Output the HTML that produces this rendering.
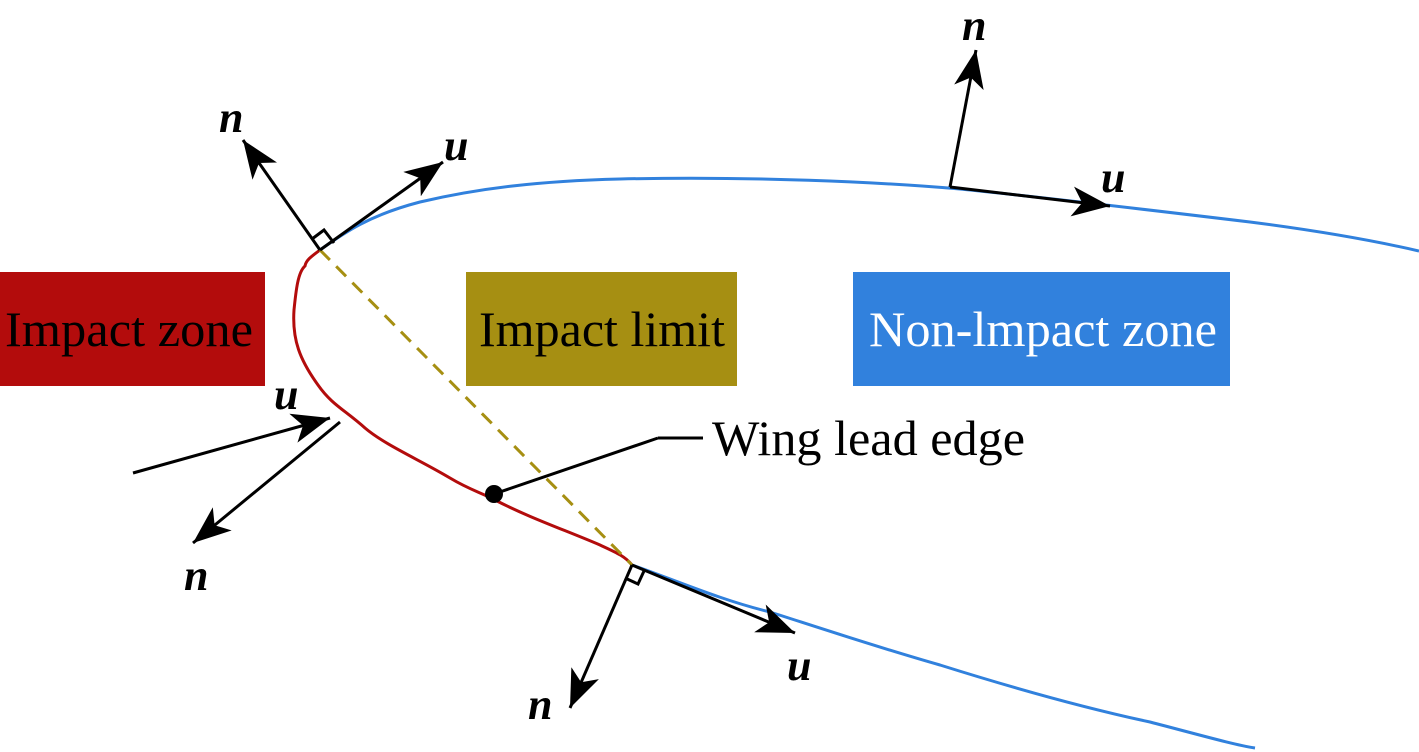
<!DOCTYPE html>
<html><head><meta charset="utf-8"><style>html,body{margin:0;padding:0;background:#fff;}svg{display:block}</style></head>
<body>
<svg width="1419" height="752" viewBox="0 0 1419 752" xmlns="http://www.w3.org/2000/svg">
<defs>
<marker id="ah" markerWidth="40" markerHeight="30" refX="38" refY="15" orient="auto" markerUnits="userSpaceOnUse" viewBox="0 0 40 30">
<path d="M0,0 L38,15 L0,30 L10,15 z" fill="#000"/>
</marker>
</defs>
<rect x="0" y="272" width="265" height="114" fill="#b30c0c"/>
<rect x="466" y="272" width="271" height="114" fill="#a68f12"/>
<rect x="853" y="272" width="377" height="114" fill="#3181dd"/>
<g font-family="Liberation Serif, serif" font-size="50">
<text x="5" y="346" textLength="248" lengthAdjust="spacingAndGlyphs" fill="#000">Impact zone</text>
<text x="479" y="346" textLength="246" lengthAdjust="spacingAndGlyphs" fill="#000">Impact limit</text>
<text x="869" y="346" textLength="348" lengthAdjust="spacingAndGlyphs" fill="#fff">Non-lmpact zone</text>
<text x="712" y="455" textLength="313" lengthAdjust="spacingAndGlyphs" fill="#000">Wing lead edge</text>
</g>
<path d="M320,250 C345,232 370,215 420,202 C480,188 540,181 620,179 C750,176 880,182 960,189 C1050,198 1150,210 1250,222 C1320,231 1380,242 1419,251" fill="none" stroke="#3181dd" stroke-width="3"/>
<path d="M632,565 C670,578 720,600 770,612 C820,628 880,648 940,665 C1010,687 1080,707 1150,722 C1200,735 1235,745 1255,748" fill="none" stroke="#3181dd" stroke-width="3"/>
<path d="M320,250 C312,256 306,260 305,266 C298,272 296,290 294,310 C292,340 300,360 318,385 C332,405 345,410 365,428 C385,445 420,460 450,478 C470,490 480,492 495,500 C530,518 565,530 600,545 C615,552 625,556 632,565" fill="none" stroke="#b30c0c" stroke-width="3"/>
<line x1="320" y1="250" x2="632" y2="565" stroke="#a68f12" stroke-width="3" stroke-dasharray="14,9"/>
<line x1="494" y1="494" x2="658" y2="438" stroke="#000" stroke-width="3"/>
<line x1="658" y1="438" x2="703" y2="438" stroke="#000" stroke-width="3"/>
<circle cx="494" cy="494" r="9" fill="#000"/>
<g stroke="#000" stroke-width="3" fill="none">
<line x1="320" y1="250" x2="243" y2="140" marker-end="url(#ah)"/>
<line x1="320" y1="250" x2="443" y2="162" marker-end="url(#ah)"/>
<polyline points="312,239 324,230 334,243"/>
<line x1="133" y1="473" x2="330" y2="418" marker-end="url(#ah)"/>
<line x1="340" y1="422" x2="193" y2="543" marker-end="url(#ah)"/>
<line x1="632" y1="565" x2="795" y2="633" marker-end="url(#ah)"/>
<line x1="632" y1="565" x2="570" y2="708" marker-end="url(#ah)"/>
<polyline points="625,578 638,584 644,571"/>
<line x1="950" y1="187" x2="976" y2="50" marker-end="url(#ah)"/>
<line x1="950" y1="187" x2="1110" y2="206" marker-end="url(#ah)"/>
</g>
<g font-family="Liberation Serif, serif" font-size="44" font-weight="bold" font-style="italic" fill="#000">
<text x="219" y="132">n</text>
<text x="444" y="160">u</text>
<text x="274" y="409">u</text>
<text x="184" y="590">n</text>
<text x="962" y="40">n</text>
<text x="1101" y="192">u</text>
<text x="787" y="680">u</text>
<text x="528" y="719">n</text>
</g>
</svg>
</body></html>
